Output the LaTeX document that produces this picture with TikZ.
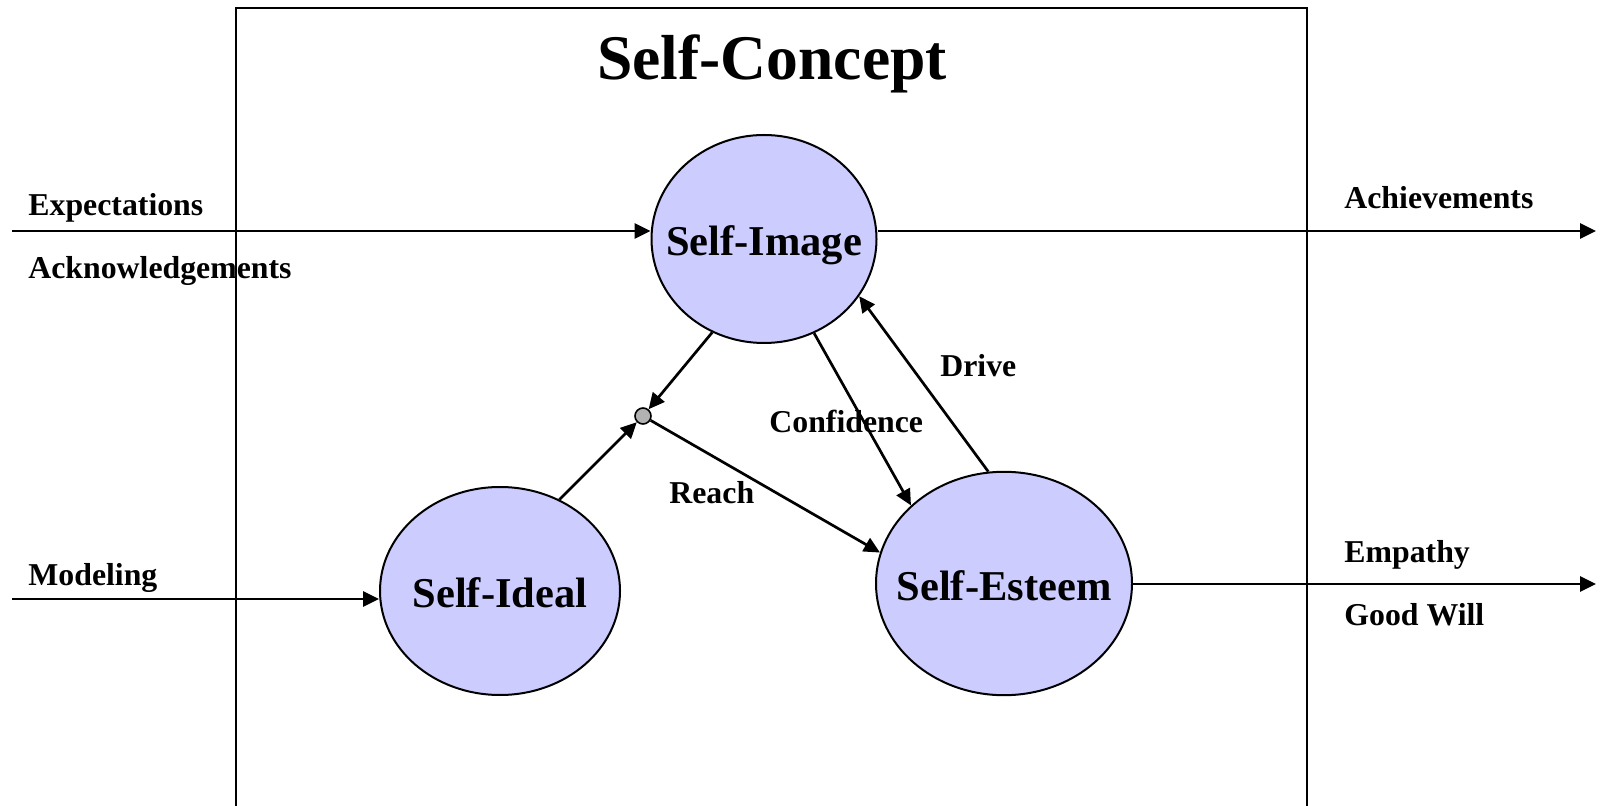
\documentclass[tikz,border=0pt]{standalone}
\usepackage{fontspec}
\setmainfont{Liberation Serif}
\usetikzlibrary{arrows.meta,shapes.geometric}
\definecolor{bub}{HTML}{CCCCFF}
\definecolor{dotgray}{HTML}{B2B2B2}
\begin{document}
\begin{tikzpicture}[x=0.5pt,y=-0.5pt,
  conn/.style={line width=1.35pt},
  arr/.style={conn,-{Triangle[length=8pt,width=7.5pt]}},
  bubble/.style={ellipse,draw,line width=1pt,fill=bub,inner sep=0pt,text height=16.5pt,text depth=0pt,font=\fontsize{21.25}{24}\selectfont\bfseries},
  lbl/.style={anchor=base west,inner sep=0pt,font=\fontsize{15.9}{18}\selectfont\bfseries}]
\useasboundingbox (0,0) rectangle (1600,806);
\clip (0,0) rectangle (1600,806);
% frame
\draw[line width=1.35pt] (236,8) rectangle (1307,840);
\node[anchor=base,inner sep=0pt,font=\fontsize{31.8}{36}\selectfont\bfseries] (title) at (772,80) {Self-Concept};
% bubbles
\node[bubble,minimum width=112.5pt,minimum height=104pt] (simg) at (764,239) {\makebox[0pt]{Self-Image}};
\node[bubble,minimum width=120pt,minimum height=104pt] (sid) at (500,591) {\makebox[0pt]{Self-Ideal}};
\node[bubble,minimum width=128pt,minimum height=111.7pt] (sest) at (1004,583.5) {\makebox[0pt]{Self-Esteem}};
\node[circle,draw,fill=dotgray,minimum size=8pt,inner sep=0pt,line width=0.8pt] (dot) at (643,416) {};
% free ends
\coordinate (inE) at (12,231);
\coordinate (inM) at (12,599);
\coordinate (outA) at (1596,231);
\coordinate (outE) at (1596,584);
% connectors
\draw[arr] (inE) -- (inE -| simg.west);
\draw[arr] (outA -| simg.east) -- (outA);
\draw[arr] (inM) -- (inM -| sid.west);
\draw[arr] (outE -| sest.east) -- (outE);
\draw[arr] (simg.241) -- (dot);
\draw[arr] (sid.57) -- (dot);
\draw[arr] (dot) -- (sest.166);
\draw[arr] (simg.298) -- (sest.140);
\draw[arr] (sest.98) -- (simg.329);
% labels
\node[lbl] (lexp) at (28,216) {Expectations};
\node[lbl] (lack) at (28,279) {Acknowledgements};
\node[lbl] (lmod) at (28,585) {Modeling};
\node[lbl] (lach) at (1344,209) {Achievements};
\node[lbl] (lemp) at (1344,562) {Empathy};
\node[lbl] (lgw) at (1344,625) {Good Will};
\node[lbl] (ldrv) at (940,377) {Drive};
\node[lbl] (lcon) at (769,433) {Confidence};
\node[lbl] (lrch) at (669,504) {Reach};
\end{tikzpicture}
\end{document}
